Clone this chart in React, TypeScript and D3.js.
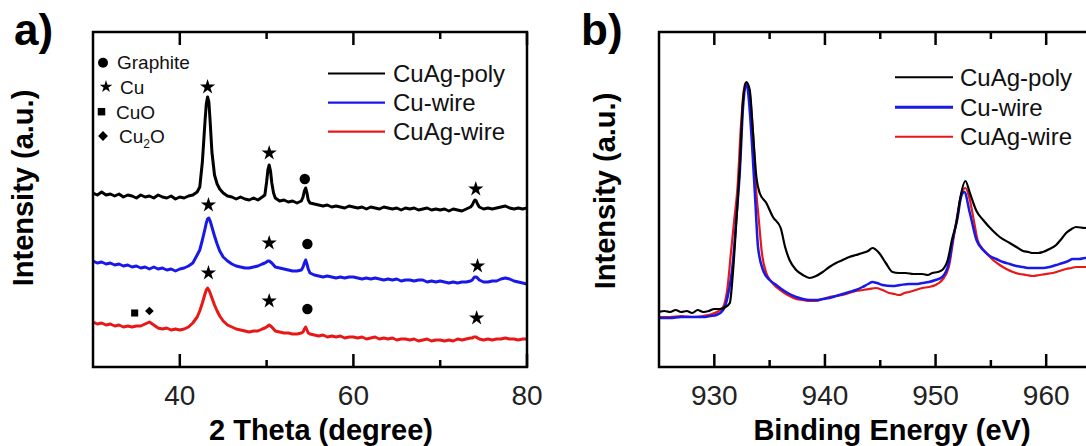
import React from 'react';
import * as d3 from 'd3';

// ---------- Panel a: XRD ----------
const xrdTheta = [
  30, 30.5, 31, 31.5, 32, 32.5, 33, 33.5, 34, 34.5, 35, 35.5, 36, 36.5, 37, 37.5, 38, 38.5, 39, 39.5, 40, 40.5, 41, 41.5, 42,
  42.3, 42.6, 42.9, 43.05, 43.2, 43.35, 43.5, 43.7, 44.0, 44.3, 44.6,
  45, 45.5, 46, 46.5, 47, 47.5, 48, 48.5, 49, 49.5,
  49.8, 50.0, 50.15, 50.3, 50.45, 50.6, 50.8,
  51, 51.5, 52, 52.5, 53, 53.5, 54,
  54.2, 54.35, 54.5, 54.65, 54.8,
  55, 55.5, 56, 56.5, 57, 57.5, 58, 58.5, 59, 59.5, 60, 60.5, 61, 61.5, 62, 62.5, 63, 63.5, 64, 64.5,
  65, 65.5, 66, 66.5, 67, 67.5, 68, 68.5, 69, 69.5, 70, 70.5, 71, 71.5, 72, 72.5, 73, 73.5,
  73.7, 73.85, 74.0, 74.15, 74.3, 74.5,
  75, 75.5, 76, 76.5, 77, 77.5, 78, 78.5, 79, 79.5, 80,
];

const xrdCuAgPoly = [
  174, 172, 175, 172, 173, 171, 173, 170, 172, 171, 169, 172, 170, 171, 169, 172, 170, 169, 171, 168, 170, 169, 171, 172, 175,
  180, 205, 245, 263, 270, 265, 245, 215, 192, 183, 178,
  174, 171, 170, 168, 170, 168, 167, 169, 167, 170,
  172, 185, 197, 202, 196, 184, 174,
  169, 166, 167, 165, 166, 164, 166,
  170, 176, 179, 174, 167,
  164, 163, 162, 161, 162, 160, 161, 160, 159, 161, 160, 159, 160, 158, 160, 159, 158, 160, 159, 158,
  159, 157, 159, 158, 159, 157, 158, 159, 157, 158, 157, 158, 156, 158, 157, 156, 158, 160,
  162, 165, 167, 166, 163, 160,
  158, 159, 158, 159, 160, 161, 159, 158, 159, 158, 159,
];

const xrdCuWire = [
  106, 104, 105, 103, 104, 102, 103, 101, 102, 100, 101, 99, 100, 98, 100, 98, 99, 97, 98, 96, 98, 99, 101, 104, 112,
  117, 127, 138, 144, 148, 149, 146, 140, 131, 123, 116,
  110, 106, 103, 101, 100, 99, 99, 100, 101, 103,
  104, 105, 106, 106, 105, 104, 102,
  100, 99, 98, 97, 96, 96, 97,
  100, 104, 107, 103, 98,
  94, 92, 91, 90, 91, 90, 89, 90, 89, 90, 90, 89, 88, 89, 88, 89, 88, 87, 88, 87,
  88, 86, 87, 87, 86, 87, 87, 85, 86, 85, 86, 85, 84, 85, 84, 85, 85, 86,
  87, 89, 90, 90, 89, 87,
  85, 85, 86, 86, 88, 89, 88, 86, 85, 84, 83,
];

const xrdCuAgWire = [
  45, 43, 44, 42, 43, 41, 42, 40, 41, 40, 41, 41, 43, 45, 42, 39, 38, 39, 37, 38, 37, 38, 40, 44, 50,
  56, 64, 73, 77, 79, 77, 74, 69, 62, 56, 51,
  46, 42, 40, 38, 37, 36, 35, 36, 36, 38,
  39, 40, 41, 42, 41, 40, 38,
  36, 35, 34, 34, 33, 33, 34,
  35, 38, 40, 37, 34,
  33, 32, 31, 32, 30, 31, 30, 31, 29, 30, 30, 29, 30, 28, 29, 30, 28, 29, 28, 29,
  27, 28, 28, 27, 28, 26, 27, 28, 26, 27, 27, 26, 27, 26, 28, 27, 28, 29,
  29, 30, 30, 30, 29, 28,
  27, 28, 27, 28, 28, 29, 28, 28, 27, 28, 28,
];

// peak marks: [phase, 2theta, intensity]
const xrdMarksCuAgPoly: [string, number, number][] = [
  ['Cu', 43.2, 280], ['Cu', 50.3, 214], ['Graphite', 54.4, 188], ['Cu', 74.1, 178],
];
const xrdMarksCuWire: [string, number, number][] = [
  ['Cu', 43.3, 162], ['Cu', 50.3, 124], ['Graphite', 54.7, 123], ['Cu', 74.3, 101],
];
const xrdMarksCuAgWire: [string, number, number][] = [
  ['CuO', 34.8, 54], ['Cu2O', 36.5, 56], ['Cu', 43.3, 94], ['Cu', 50.3, 66], ['Graphite', 54.7, 58], ['Cu', 74.2, 49],
];

const xrdMajorTicks = [40, 60, 80];
const xrdMinorTicks = [50, 70];

// ---------- Panel b: XPS ----------
const xpsCuAgPoly: [number, number][] = [
  [925, 55], [925.5, 56], [926, 55], [926.5, 57], [927, 55], [927.5, 56], [928, 54], [928.5, 57], [929, 55], [929.5, 56],
  [930, 58], [930.5, 58], [931, 60], [931.4, 64], [931.7, 97], [932.0, 147], [932.3, 200], [932.6, 267], [932.9, 285],
  [933.2, 277], [933.5, 234], [933.8, 190], [934.1, 174], [934.7, 164], [935.3, 150], [936.0, 139], [936.4, 120],
  [936.8, 107], [937.4, 97], [938.0, 92], [938.6, 89], [939.2, 91], [939.8, 95], [940.4, 100], [941.0, 104], [941.6, 107],
  [942.2, 110], [942.8, 112], [943.4, 114], [943.9, 116], [944.3, 119], [944.9, 114], [945.5, 104], [946.1, 95],
  [946.7, 94], [947.3, 94], [948.0, 93], [948.8, 93], [949.3, 92], [949.7, 94], [950.2, 95], [950.6, 97],
  [951.1, 107], [951.5, 128], [951.9, 145], [952.2, 167], [952.7, 186], [953.1, 174], [953.7, 156], [954.3, 147],
  [955.2, 136], [955.8, 130], [956.7, 124], [957.3, 120], [957.9, 116], [958.4, 115], [958.8, 114], [959.3, 114],
  [959.7, 115], [960.3, 118], [960.9, 122], [961.3, 127], [961.8, 134], [962.3, 138], [962.7, 140], [963.5, 139],
  [964.3, 140], [965, 139],
];

const xpsCuWire: [number, number][] = [
  [925, 49], [926, 49], [927, 50], [928, 50], [929, 50], [929.6, 51], [930.2, 52], [930.8, 57], [931.2, 70],
  [931.7, 107], [932.0, 150], [932.3, 194], [932.6, 260], [932.9, 284], [933.1, 270], [933.4, 224], [933.7, 167],
  [933.95, 120], [934.4, 97], [935.0, 87], [935.6, 82], [936.2, 77], [936.8, 73], [937.4, 70], [938.0, 68],
  [938.6, 67], [939.2, 67], [939.8, 68], [940.4, 69], [941.0, 71], [941.6, 73], [942.2, 75], [942.8, 77],
  [943.4, 80], [943.9, 83], [944.3, 85], [944.7, 84], [945.2, 82], [946.1, 81], [946.8, 82], [947.6, 83],
  [948.2, 83], [948.8, 84], [949.4, 85], [950.0, 87], [950.6, 90], [951.2, 104], [951.6, 130], [952.0, 150],
  [952.3, 170], [952.6, 175], [953.1, 154], [953.7, 127], [954.3, 117], [954.9, 111], [955.5, 108], [956.1, 105],
  [956.7, 103], [957.3, 101], [957.9, 100], [958.5, 99], [959.1, 99], [959.7, 99], [960.3, 100], [960.9, 102],
  [961.5, 104], [962.0, 106], [962.4, 108], [963.0, 108], [963.5, 109], [964.3, 108], [965, 108],
];

const xpsCuAgWire: [number, number][] = [
  [925, 50], [926, 50], [927, 51], [928, 50], [929, 51], [929.8, 53], [930.4, 56], [930.8, 60], [931.2, 80],
  [931.5, 114], [931.8, 147], [932.1, 180], [932.4, 240], [932.8, 284], [933.1, 280], [933.5, 234], [933.8, 174],
  [934.0, 150], [934.3, 114], [934.7, 94], [935.1, 86], [935.6, 80], [936.2, 75], [936.8, 71], [937.4, 68],
  [938.0, 67], [938.6, 66], [939.2, 66], [939.8, 68], [940.4, 70], [941.0, 71], [941.6, 72], [942.2, 74],
  [942.8, 76], [943.4, 77], [944.0, 78], [944.6, 79], [945.2, 77], [945.8, 74], [946.3, 73], [946.7, 72],
  [947.2, 74], [947.6, 75], [948.2, 77], [948.8, 79], [949.4, 80], [950.0, 82], [950.6, 87], [951.2, 100],
  [951.6, 127], [952.1, 160], [952.4, 175], [952.7, 179], [953.1, 167], [953.5, 144], [953.8, 127], [954.2, 119],
  [954.6, 114], [955.2, 107], [955.8, 102], [956.4, 98], [957.0, 95], [957.6, 93], [958.2, 92], [958.8, 91],
  [959.4, 92], [960.0, 93], [960.6, 94], [961.2, 96], [961.8, 98], [962.3, 99], [962.7, 100], [963.5, 100],
  [964.3, 100], [965, 100],
];

const xpsMajorTicks = [930, 940, 950, 960];
const xpsMinorTicks = [935, 945, 955, 965];

const seriesNames = ['CuAg-poly', 'Cu-wire', 'CuAg-wire'];
const seriesColors = ['#000000', '#1818e8', '#e81818'];
const phaseNames = ['Graphite', 'Cu', 'CuO', 'Cu2O'];

const FONT = "'Liberation Sans', Arial, Helvetica, sans-serif";

function symbolPath(phase: string, size: number) {
  const t = phase === 'Graphite' ? d3.symbolCircle : phase === 'Cu' ? d3.symbolStar : d3.symbolSquare;
  return d3.symbol().type(t).size(size)() as string;
}

function Mark({ phase, x, y, legend }: { phase: string; x: number; y: number; legend?: boolean }) {
  const sizes: Record<string, number> = legend
    ? { Graphite: 78, Cu: 50, CuO: 56, Cu2O: 48 }
    : { Graphite: 85, Cu: 72, CuO: 50, Cu2O: 38 };
  const rot = phase === 'Cu2O' ? ' rotate(45)' : '';
  return <path d={symbolPath(phase, sizes[phase])} transform={`translate(${x},${y})${rot}`} fill="#000" />;
}

export default function App() {
  const xa = d3.scaleLinear().domain([30, 80]).range([93, 527]);
  const ya = d3.scaleLinear().domain([0, 335]).range([367, 32]);
  const xb = d3.scaleLinear().domain([925, 965]).range([659, 1101.5]);
  const yb = d3.scaleLinear().domain([0, 335]).range([367, 32]);

  const lineA = d3.line<number>().x((_, i) => xa(xrdTheta[i])).y((d) => ya(d));
  const lineB = d3.line<[number, number]>().x((d) => xb(d[0])).y((d) => yb(d[1])).curve(d3.curveMonotoneX);

  const xrdSeries = [xrdCuAgPoly, xrdCuWire, xrdCuAgWire];
  const xrdMarks = [xrdMarksCuAgPoly, xrdMarksCuWire, xrdMarksCuAgWire];
  const xpsSeries = [xpsCuAgPoly, xpsCuWire, xpsCuAgWire];

  const [aL, aR] = xa.range();
  const [bL, bR] = xb.range();
  const top = ya.range()[1];
  const bottom = ya.range()[0];
  const MAJ = 13, MIN = 7;

  const legendA = { x1: 328, x2: 385, tx: 393, ys: [73.5, 102.7, 131.7] };
  const legendB = { x1: 895, x2: 953, tx: 960, ys: [77.3, 107.3, 136.7] };
  const legendBWidths = [2, 3, 2];

  const phaseLegend = [
    { sx: 103, sy: 62.8, tx: 117, ty: 68.5 },
    { sx: 106, sy: 86.7, tx: 120, ty: 93.5 },
    { sx: 101.5, sy: 111.7, tx: 116, ty: 118.5 },
    { sx: 103, sy: 136, tx: 119, ty: 143 },
  ];

  const ticks = (xs: d3.ScaleLinear<number, number>, vals: number[], len: number, key: string) =>
    vals.map((v) => (
      <g key={key + v}>
        <line x1={xs(v)} x2={xs(v)} y1={bottom} y2={bottom - len} stroke="#000" strokeWidth={2.5} />
        <line x1={xs(v)} x2={xs(v)} y1={top} y2={top + len} stroke="#000" strokeWidth={2.5} />
      </g>
    ));

  return (
    <svg width={1086} height={446} style={{ position: 'fixed', left: 0, top: 0, background: '#fff' }} fontFamily={FONT}>
      <rect width={1086} height={446} fill="#fff" />
      <defs>
        <clipPath id="clipA"><rect x={aL} y={top} width={aR - aL} height={bottom - top} /></clipPath>
        <clipPath id="clipB"><rect x={bL} y={top} width={bR - bL} height={bottom - top} /></clipPath>
      </defs>

      {/* ---------- Panel a ---------- */}
      <text x={14} y={45} fontSize={44} fontWeight="bold">a)</text>
      <g clipPath="url(#clipA)">
        {xrdSeries.map((s, i) => (
          <path key={i} d={lineA(s) as string} fill="none" stroke={seriesColors[i]} strokeWidth={3} strokeLinejoin="round" />
        ))}
      </g>
      {xrdMarks.map((ms, i) => ms.map(([p, x, y], j) => <Mark key={`m${i}-${j}`} phase={p} x={xa(x)} y={ya(y)} />))}
      <rect x={aL} y={top} width={aR - aL} height={bottom - top} fill="none" stroke="#000" strokeWidth={2.5} />
      {ticks(xa, xrdMajorTicks, MAJ, 'amj')}
      {ticks(xa, xrdMinorTicks, MIN, 'amn')}
      {xrdMajorTicks.map((v) => (
        <text key={'al' + v} x={xa(v)} y={405} fontSize={28} textAnchor="middle" fill="#222">{v}</text>
      ))}
      <text x={321} y={440} fontSize={29} fontWeight="bold" textAnchor="middle">2 Theta (degree)</text>
      <text transform="translate(33,188) rotate(-90)" fontSize={29} fontWeight="bold" textAnchor="middle">Intensity (a.u.)</text>

      {/* phase legend */}
      {phaseNames.map((p, i) => (
        <g key={'pl' + p}>
          <Mark phase={p} x={phaseLegend[i].sx} y={phaseLegend[i].sy} legend />
          {p === 'Cu2O' ? (
            <text x={phaseLegend[i].tx} y={phaseLegend[i].ty} fontSize={19} fill="#111">
              Cu<tspan fontSize={12} dy={5}>2</tspan><tspan dy={-5}>O</tspan>
            </text>
          ) : (
            <text x={phaseLegend[i].tx} y={phaseLegend[i].ty} fontSize={19} fill="#111">{p}</text>
          )}
        </g>
      ))}

      {/* series legend a */}
      {seriesNames.map((n, i) => (
        <g key={'la' + n}>
          <line x1={legendA.x1} x2={legendA.x2} y1={legendA.ys[i]} y2={legendA.ys[i]} stroke={seriesColors[i]} strokeWidth={2.2} />
          <text x={legendA.tx} y={legendA.ys[i] + 8.5} fontSize={24} fill="#111">{n}</text>
        </g>
      ))}

      {/* ---------- Panel b ---------- */}
      <text x={581} y={45} fontSize={44} fontWeight="bold">b)</text>
      <g clipPath="url(#clipB)">
        {[2, 1, 0].map((i) => (
          <path key={i} d={lineB(xpsSeries[i]) as string} fill="none" stroke={seriesColors[i]}
            strokeWidth={i === 1 ? 2.5 : 2.2} strokeLinejoin="round" />
        ))}
      </g>
      <rect x={bL} y={top} width={bR - bL} height={bottom - top} fill="none" stroke="#000" strokeWidth={2.5} />
      {ticks(xb, xpsMajorTicks, MAJ, 'bmj')}
      {ticks(xb, xpsMinorTicks, MIN, 'bmn')}
      {xpsMajorTicks.map((v) => (
        <text key={'bl' + v} x={xb(v)} y={405} fontSize={28} textAnchor="middle" fill="#222">{v}</text>
      ))}
      <text x={892} y={440} fontSize={29} fontWeight="bold" textAnchor="middle">Binding Energy (eV)</text>
      <text transform="translate(615,191) rotate(-90)" fontSize={29} fontWeight="bold" textAnchor="middle">Intensity (a.u.)</text>

      {seriesNames.map((n, i) => (
        <g key={'lb' + n}>
          <line x1={legendB.x1} x2={legendB.x2} y1={legendB.ys[i]} y2={legendB.ys[i]} stroke={seriesColors[i]} strokeWidth={legendBWidths[i]} />
          <text x={legendB.tx} y={legendB.ys[i] + 8.5} fontSize={24} fill="#111">{n}</text>
        </g>
      ))}
    </svg>
  );
}
